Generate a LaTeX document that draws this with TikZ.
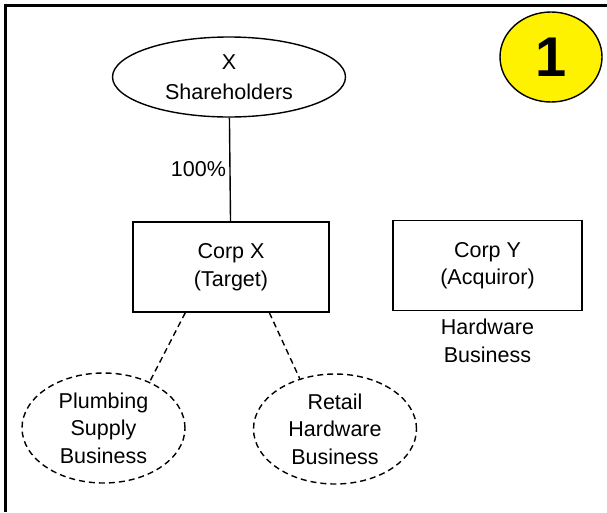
\documentclass[tikz,border=0pt]{standalone}
\usepackage{fontspec}
\setmainfont{Liberation Sans}
\usetikzlibrary{shapes.geometric}
\begin{document}
\begin{tikzpicture}[x=1pt,y=-1pt,line width=1.4pt,
	every node/.style={font=\fontsize{21.5}{27.5}\selectfont,align=center},
	owner/.style={ellipse,draw,minimum width=233pt,minimum height=80pt,inner sep=0pt},
	corp/.style={rectangle,draw,minimum width=196pt,minimum height=90pt},
	biz/.style={ellipse,draw,dash pattern=on 6pt off 4pt,minimum width=163pt,minimum height=110pt,inner sep=0pt}]
	\useasboundingbox (0,0) rectangle (607,512);
	\draw[line width=3.5pt] (5.5,512) -- (5.5,5.5) -- (607,5.5);
	\node[ellipse,draw,fill=yellow,minimum width=102pt,minimum height=90pt,inner sep=0pt,font=\fontsize{56}{56}\selectfont\bfseries] (num) at (551,57) {1};
	\node[owner] (xsh) at (229,77) {X\\[3pt]Shareholders};
	\node[corp] (corpx) at (231,267) {Corp X\\(Target)};
	\node[corp,minimum width=189pt] (corpy) at (487.5,265.5) {Corp Y\\(Acquiror)};
	\node[below=4pt] (hw) at (corpy.south) {Hardware\\Business};
	\node[biz] (plumb) at (103.5,428) {Plumbing\\Supply\\Business};
	\node[biz] (retail) at (335,429) {Retail\\Hardware\\Business};
	\draw (xsh) -- node[left] {100\%} (corpx);
	\draw[dash pattern=on 6pt off 4pt] (corpx.-135) -- (plumb.45);
	\draw[dash pattern=on 6pt off 4pt] (corpx.-50) -- (retail.125);
\end{tikzpicture}
\end{document}
